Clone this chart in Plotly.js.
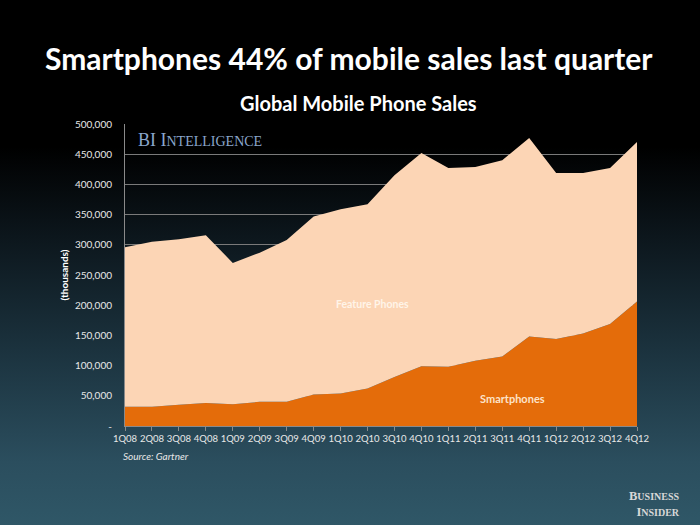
<!DOCTYPE html>
<html>
<head>
<meta charset="utf-8">
<script src="https://cdn.plot.ly/plotly-3.0.1.min.js"></script>
<style>
html,body{margin:0;padding:0;}
body{width:700px;height:525px;background:linear-gradient(to bottom,#000000 0%,#000000 28%,#0c161c 45%,#1c3440 68%,#2b4e5e 88%,#2f5767 100%);}
#chart{width:700px;height:525px;}
</style>
</head>
<body>
<div id="chart"></div>
<script>
const quarters = ["1Q08","2Q08","3Q08","4Q08","1Q09","2Q09","3Q09","4Q09","1Q10","2Q10","3Q10","4Q10","1Q11","2Q11","3Q11","4Q11","1Q12","2Q12","3Q12","4Q12"];
const smartphones = [32000,32000,35000,38000,36000,40000,40000,52000,54000,62000,81000,99000,98000,108000,115000,148000,144000,153000,169000,206000];
const featurePhones = [264000,273000,274000,278000,234000,247000,268000,295000,305000,305000,334000,353000,329000,321000,325000,329000,275000,266000,258000,264000];
const yTicks = [0,50000,100000,150000,200000,250000,300000,350000,400000,450000,500000];
const yTickText = ["-","50,000","100,000","150,000","200,000","250,000","300,000","350,000","400,000","450,000","500,000"];

const traces = [
  {x: quarters, y: smartphones, name: "Smartphones", type: "scatter", mode: "lines", stackgroup: "one",
   line: {color: "#e46c0a", width: 0}, fillcolor: "#e46c0a"},
  {x: quarters, y: featurePhones, name: "Feature Phones", type: "scatter", mode: "lines", stackgroup: "one",
   line: {color: "#fcd5b5", width: 0}, fillcolor: "#fcd5b5"}
];

const layout = {
  width: 700, height: 525,
  paper_bgcolor: "rgba(0,0,0,0)", plot_bgcolor: "rgba(0,0,0,0)",
  margin: {l: 125, r: 63, t: 124, b: 99},
  showlegend: false,
  font: {family: "Lato, 'Open Sans', sans-serif", color: "#e8e8e8"},
  xaxis: {
    type: "category", range: [0, 19], showgrid: false, zeroline: false,
    showline: true, linecolor: "#8a8a8a", linewidth: 1,
    ticks: "outside", ticklen: 4, tickcolor: "#8a8a8a", tickangle: 0,
    tickfont: {size: 9.5, color: "#e8e8e8", family: "Lato, sans-serif"}
  },
  yaxis: {
    range: [0, 500000], tickvals: yTicks, ticktext: yTickText,
    showgrid: true, gridcolor: "#7a7a7a", gridwidth: 1, zeroline: false,
    showline: true, linecolor: "#8a8a8a", linewidth: 1,
    ticks: "outside", ticklen: 10, tickcolor: "rgba(0,0,0,0)",
    tickfont: {size: 10, color: "#e8e8e8", family: "Lato, sans-serif"},
    title: {text: "<b>(thousands)</b>", font: {size: 10, color: "#ffffff"}, standoff: 4},
    layer: "below traces"
  },
  annotations: [
    {text: "<b>Smartphones 44% of mobile sales last quarter</b>", showarrow: false,
     xref: "paper", x: (349-125)/512, yref: "paper", y: (426-58)/302, xanchor: "center", yanchor: "middle",
     font: {size: 30, color: "#ffffff", family: "Lato, sans-serif"}},
    {text: "<b>Global Mobile Phone Sales</b>", xref: "paper", yref: "paper", x: (358-125)/512, y: (426-103)/302,
     xanchor: "center", yanchor: "middle", showarrow: false,
     font: {size: 20, color: "#ffffff", family: "Lato, sans-serif"}},
    {text: "BI I<span style='font-size:14px'>NTELLIGENCE</span>", xref: "paper", yref: "paper", x: (136-125)/512, y: (426-140)/302,
     xanchor: "left", yanchor: "middle", showarrow: false,
     font: {size: 18, color: "#8aa6cc", family: "'Liberation Serif', 'DejaVu Serif', serif"}},
    {text: "<b>Feature Phones</b>", xref: "paper", yref: "paper", x: (372-125)/512, y: (426-304)/302,
     xanchor: "center", yanchor: "middle", showarrow: false,
     font: {size: 10.5, color: "#fff4e8", family: "Lato, sans-serif"}},
    {text: "<b>Smartphones</b>", xref: "paper", yref: "paper", x: (512-125)/512, y: (426-398)/302,
     xanchor: "center", yanchor: "middle", showarrow: false,
     font: {size: 11, color: "#fde3c8", family: "Lato, sans-serif"}},
    {text: "<i>Source: Gartner</i>", xref: "paper", yref: "paper", x: (121-125)/512, y: (426-456)/302,
     xanchor: "left", yanchor: "middle", showarrow: false,
     font: {size: 10, color: "#e8e8e8", family: "Lato, sans-serif"}},
    {text: "<b>B<span style='font-size:10px'>USINESS</span><br>I<span style='font-size:10px'>NSIDER</span></b>", xref: "paper", yref: "paper", x: (682-125)/512, y: (426-504)/302,
     xanchor: "right", yanchor: "middle", showarrow: false, align: "right",
     font: {size: 12.5, color: "#d8d8d8", family: "'Liberation Serif', 'DejaVu Serif', serif"}}
  ]
};

Plotly.newPlot("chart", traces, layout, {displayModeBar: false, staticPlot: true});
</script>
</body>
</html>
